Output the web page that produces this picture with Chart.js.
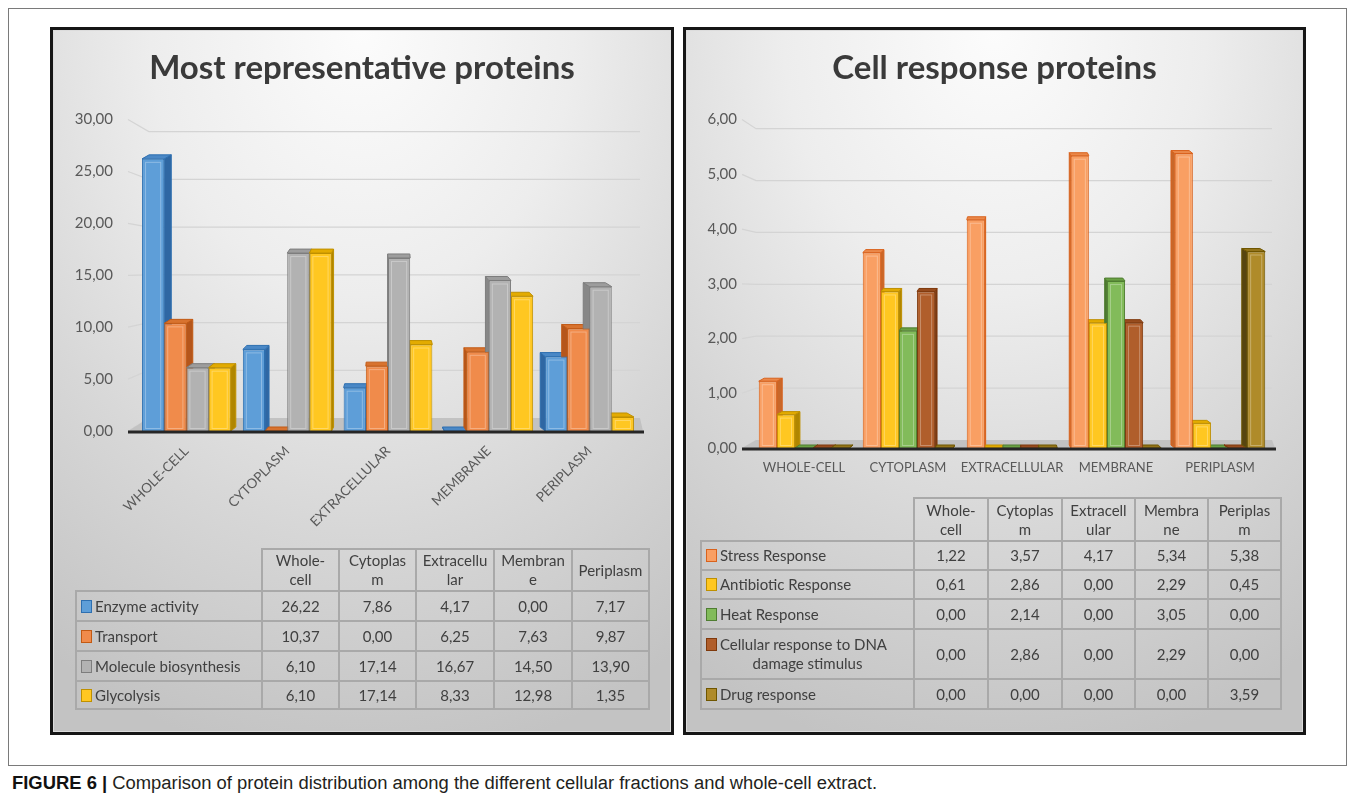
<!DOCTYPE html>
<html>
<head>
<meta charset="utf-8">
<script src="https://cdn.jsdelivr.net/npm/chart.js@4.4.1/dist/chart.umd.min.js"></script>
<style>
  html, body { margin: 0; padding: 0; background: #fff; width: 1355px; height: 802px; overflow: hidden; position: relative; font-family: Lato, "Open Sans", sans-serif; }
  #frame { position: absolute; left: 8px; top: 8px; width: 1339px; height: 758px; border: 1px solid #7a7a7a; box-sizing: border-box; }
  .panel { position: absolute; top: 27px; height: 708px; border: 3px solid #161616; box-sizing: border-box;
           background: radial-gradient(ellipse 95% 105% at 50% 0%, #fcfcfc 0%, #ededed 36%, #d7d7d7 68%, #c3c3c3 100%);
           box-shadow: inset 0 0 0 1px #dcdcdc; }
  #pL { left: 50px; width: 624px; }
  #pR { left: 683px; width: 623px; }
  canvas { position: absolute; left: 0; top: 0; }
  table { position: absolute; border-collapse: collapse; table-layout: fixed; font-size: 15px; color: #404040; }
  td { border: 2px solid #a9a9a9; text-align: center; padding: 0; line-height: 19px; }
  td.blank { border: none; }
  td.lab { text-align: left; padding-left: 4px; white-space: nowrap; }
  td.lab .cont { text-align: center; padding-right: 4px; }
  .key { display: inline-block; width: 9px; height: 11px; border: 1px solid; margin-right: 3px; vertical-align: -1px; }
  #tL { left: 22px; top: 518px; }
  #tR { left: 14px; top: 467px; }
  #caption { position: absolute; left: 12px; top: 773px; font-family: "Liberation Sans Narrow", "Liberation Sans", Arial, sans-serif;
             font-size: 18px; color: #231f20; white-space: nowrap; transform-origin: 0 0; }
  #caption b { color: #111; }
</style>
</head>
<body>
<div id="frame"></div>
<div class="panel" id="pL"><canvas id="cL" width="618" height="702"></canvas><table id="tL"></table></div>
<div class="panel" id="pR"><canvas id="cR" width="617" height="702"></canvas><table id="tR"></table></div>
<div id="caption"><b>FIGURE 6 |</b> Comparison of protein distribution among the different cellular fractions and whole-cell extract.</div>

<script>
// Cellular fractions (x categories)
const categories = ['WHOLE-CELL', 'CYTOPLASM', 'EXTRACELLULAR', 'MEMBRANE', 'PERIPLASM'];

// Column headings of the two data tables
const leftHeaders = ['Whole-\ncell', 'Cytoplas\nm', 'Extracellu\nlar', 'Membran\ne', 'Periplasm'];
const rightHeaders = ['Whole-\ncell', 'Cytoplas\nm', 'Extracell\nular', 'Membra\nne', 'Periplas\nm'];

// Value-axis ticks
const leftTicks = [0, 5, 10, 15, 20, 25, 30];
const rightTicks = [0, 1, 2, 3, 4, 5, 6];

// Most representative proteins (%)
const enzymeActivity = [26.22, 7.86, 4.17, 0.00, 7.17];
const transport = [10.37, 0.00, 6.25, 7.63, 9.87];
const moleculeBiosynthesis = [6.10, 17.14, 16.67, 14.50, 13.90];
const glycolysis = [6.10, 17.14, 8.33, 12.98, 1.35];

// Cell response proteins (%)
const stressResponse = [1.22, 3.57, 4.17, 5.34, 5.38];
const antibioticResponse = [0.61, 2.86, 0.00, 2.29, 0.45];
const heatResponse = [0.00, 2.14, 0.00, 3.05, 0.00];
const dnaDamageResponse = [0.00, 2.86, 0.00, 2.29, 0.00];
const drugResponse = [0.00, 0.00, 0.00, 0.00, 3.59];

const leftSeries = [
  { name: 'Enzyme activity', data: enzymeActivity, front: '#5e9ed8', border: '#2e6fb0', side: '#2f67a3', top: '#4a88c6' },
  { name: 'Transport', data: transport, front: '#f08b4b', border: '#c25a14', side: '#b5561b', top: '#d8732f' },
  { name: 'Molecule biosynthesis', data: moleculeBiosynthesis, front: '#b2b2b2', border: '#7d7d7d', side: '#878787', top: '#9d9d9d' },
  { name: 'Glycolysis', data: glycolysis, front: '#ffc721', border: '#bf9000', side: '#b08600', top: '#e3ab00' }
];
const rightSeries = [
  { name: 'Stress Response', data: stressResponse, front: '#f99f63', border: '#d9621c', side: '#c8672a', top: '#ea884a' },
  { name: 'Antibiotic Response', data: antibioticResponse, front: '#ffc721', border: '#bf9000', side: '#b08600', top: '#e3ab00' },
  { name: 'Heat Response', data: heatResponse, front: '#82bb5a', border: '#4f7d31', side: '#4c772f', top: '#6aa244' },
  { name: 'Cellular response to DNA\ndamage stimulus', data: dnaDamageResponse, front: '#b05e2b', border: '#7f390c', side: '#763812', top: '#984c1e' },
  { name: 'Drug response', data: drugResponse, front: '#af8b2a', border: '#6f5600', side: '#574510', top: '#947419' }
];

const fmt = v => v.toFixed(2).replace('.', ',');
const labelColor = '#595959';

// Draws the 3-D look: back-wall gridlines, floor, bar side and top faces
const perspective = {
  id: 'perspective',
  geometry(chart, o) {
    const a = chart.chartArea, ys = chart.scales.y;
    const vpX = (a.left + a.right) / 2;
    const vpY = a.top + (a.bottom - a.top) * o.vpFrac;
    const xf = a.left - o.inset;
    const xb = xf + (vpX - xf) * o.wall;
    const back = yf => yf + (vpY - yf) * o.wall;
    const y0 = ys.getPixelForValue(ys.min);
    return { a, ys, vpX, vpY, xf, xb, back, y0 };
  },
  beforeDatasetsDraw(chart, args, o) {
    const ctx = chart.ctx;
    const g = this.geometry(chart, o);
    const poly = pts => { ctx.beginPath(); pts.forEach((p, i) => i ? ctx.lineTo(p[0], p[1]) : ctx.moveTo(p[0], p[1])); ctx.closePath(); };
    ctx.save();
    ctx.strokeStyle = o.gridColor;
    ctx.lineWidth = 1.2;
    g.ys.ticks.forEach(t => {
      const yf = g.ys.getPixelForValue(t.value);
      const yb = g.back(yf);
      ctx.beginPath();
      ctx.moveTo(g.xf, yf);
      ctx.lineTo(g.xb, yb);
      if (t.value !== g.ys.min) ctx.lineTo(g.a.right, yb);
      ctx.stroke();
    });
    const y0b = g.back(g.y0);
    ctx.fillStyle = o.floorColor;
    poly([[g.xf, g.y0], [g.a.right + 3, g.y0], [g.a.right, y0b], [g.xb, y0b]]);
    ctx.fill();
    ctx.lineWidth = 1;
    chart.data.datasets.forEach((ds, di) => {
      chart.getDatasetMeta(di).data.forEach(el => {
        const { x, y, base, width } = el.getProps(['x', 'y', 'base', 'width'], true);
        const l = x - width / 2, r = x + width / 2;
        const dx = (g.vpX - x) * o.bar, dy = -o.lift;
        const e = dx >= 0 ? r : l;
        ctx.fillStyle = ds.sideColor; ctx.strokeStyle = ds.borderColor;
        poly([[e, y], [e, base], [e + dx, base + dy], [e + dx, y + dy]]);
        ctx.fill(); ctx.stroke();
        ctx.fillStyle = ds.topColor;
        poly([[l, y], [r, y], [r + dx, y + dy], [l + dx, y + dy]]);
        ctx.fill(); ctx.stroke();
      });
    });
    ctx.restore();
  },
  afterDatasetsDraw(chart, args, o) {
    const ctx = chart.ctx;
    const g = this.geometry(chart, o);
    ctx.save();
    ctx.strokeStyle = 'rgba(255,255,255,0.3)';
    ctx.lineWidth = 1;
    chart.data.datasets.forEach((ds, di) => {
      chart.getDatasetMeta(di).data.forEach(el => {
        const { x, y, base, width } = el.getProps(['x', 'y', 'base', 'width'], true);
        if (base - y > 8) ctx.strokeRect(x - width / 2 + 3.5, y + 3.5, width - 7, base - y - 6);
      });
    });
    ctx.strokeStyle = '#262626';
    ctx.lineWidth = 3;
    ctx.beginPath();
    ctx.moveTo(g.xf, g.y0 + 1);
    ctx.lineTo(g.a.right + 4, g.y0 + 1);
    ctx.stroke();
    ctx.restore();
  }
};

function makeChart(canvasId, cfg) {
  return new Chart(document.getElementById(canvasId), {
    type: 'bar',
    plugins: [perspective],
    data: {
      labels: categories,
      datasets: cfg.series.map(s => ({
        label: s.name, data: s.data,
        backgroundColor: s.front, borderColor: s.border, borderWidth: 1,
        sideColor: s.side, topColor: s.top,
        categoryPercentage: cfg.catPct, barPercentage: 1
      }))
    },
    options: {
      responsive: false,
      animation: false,
      events: [],
      layout: { padding: { left: 0, right: 0, top: 0, bottom: cfg.bottomPad } },
      plugins: {
        legend: { display: false },
        tooltip: { enabled: false },
        title: {
          display: true, text: cfg.title, color: '#3a3a3a',
          font: { family: 'Lato', size: cfg.titleSize, weight: 'bold' },
          padding: { top: 19, bottom: 31 }
        },
        perspective: cfg.depth
      },
      scales: {
        x: {
          grid: { display: false, drawTicks: false },
          border: { display: false },
          ticks: {
            autoSkip: false, minRotation: cfg.rotation, maxRotation: cfg.rotation,
            padding: cfg.xPad, labelOffset: cfg.xOffset,
            color: labelColor, font: { family: 'Lato', size: cfg.xFont }
          },
          afterFit: s => { s.height = cfg.xHeight; }
        },
        y: {
          min: cfg.ticks[0], max: cfg.ticks[cfg.ticks.length - 1],
          afterBuildTicks: s => { s.ticks = cfg.ticks.map(v => ({ value: v })); },
          grid: { display: false, drawTicks: false },
          border: { display: false },
          ticks: {
            padding: cfg.yPad, color: labelColor,
            font: { family: 'Lato', size: 15 },
            callback: v => fmt(v)
          },
          afterFit: s => { s.width = cfg.yWidth; }
        },
        // empty margin on the right of the plot, keeps the title centred on the panel
        margin: {
          position: 'right', axis: 'y',
          grid: { display: false, drawTicks: false },
          border: { display: false },
          ticks: { display: false },
          afterFit: s => { s.width = cfg.rightGap; }
        }
      }
    }
  });
}

makeChart('cL', {
  title: 'Most representative proteins', titleSize: 33,
  series: leftSeries, ticks: leftTicks, catPct: 0.88,
  bottomPad: 181, rightGap: 31,
  rotation: 45, xPad: 12, xOffset: 0, xFont: 13.5, xHeight: 120,
  yPad: 23, yWidth: 83,
  depth: { vpFrac: 0.48, wall: 0.08, inset: 8, bar: 0.03, lift: 4, gridColor: '#d4d4d4', floorColor: '#c2c2c2' }
});

makeChart('cR', {
  title: 'Cell response proteins', titleSize: 33,
  series: rightSeries, ticks: rightTicks, catPct: 0.87,
  bottomPad: 244, rightGap: 31,
  rotation: 0, xPad: 12, xOffset: 0, xFont: 13, xHeight: 40,
  yPad: 15, yWidth: 66,
  depth: { vpFrac: 0.53, wall: 0.052, inset: 10, bar: 0.022, lift: 3, gridColor: '#d4d4d4', floorColor: '#c2c2c2' }
});

// Data tables under each chart
function buildTable(id, headers, series, colWidths, rowHeights) {
  const t = document.getElementById(id);
  const cg = document.createElement('colgroup');
  colWidths.forEach(w => { const c = document.createElement('col'); c.style.width = w + 'px'; cg.appendChild(c); });
  t.appendChild(cg);
  t.style.width = colWidths.reduce((s, w) => s + w, 0) + 'px';
  const head = t.insertRow();
  head.style.height = rowHeights[0] + 'px';
  const blank = head.insertCell(); blank.className = 'blank';
  headers.forEach(h => { const c = head.insertCell(); c.innerHTML = h.split('\n').join('<br>'); });
  series.forEach((s, i) => {
    const row = t.insertRow();
    row.style.height = rowHeights[i + 1] + 'px';
    const lab = row.insertCell();
    lab.className = 'lab';
    const lines = s.name.split('\n');
    const key = '<span class="key" style="background:' + s.front + ';border-color:' + s.border + '"></span>';
    lab.innerHTML = '<div>' + key + lines[0] + '</div>' + lines.slice(1).map(l => '<div class="cont">' + l + '</div>').join('');
    s.data.forEach(v => { const c = row.insertCell(); c.textContent = fmt(v); });
  });
}
buildTable('tL', leftHeaders, leftSeries, [186, 77, 77, 78, 78, 77], [42, 30, 30, 30, 28]);
buildTable('tR', rightHeaders, rightSeries, [213, 74, 74, 73, 73, 73], [43, 29, 29, 30, 50, 30]);

// Caption set to its printed width
const cap = document.getElementById('caption');
const capW = cap.getBoundingClientRect().width;
cap.style.transform = 'scaleX(' + (865 / capW) + ')';
</script>
</body>
</html>
